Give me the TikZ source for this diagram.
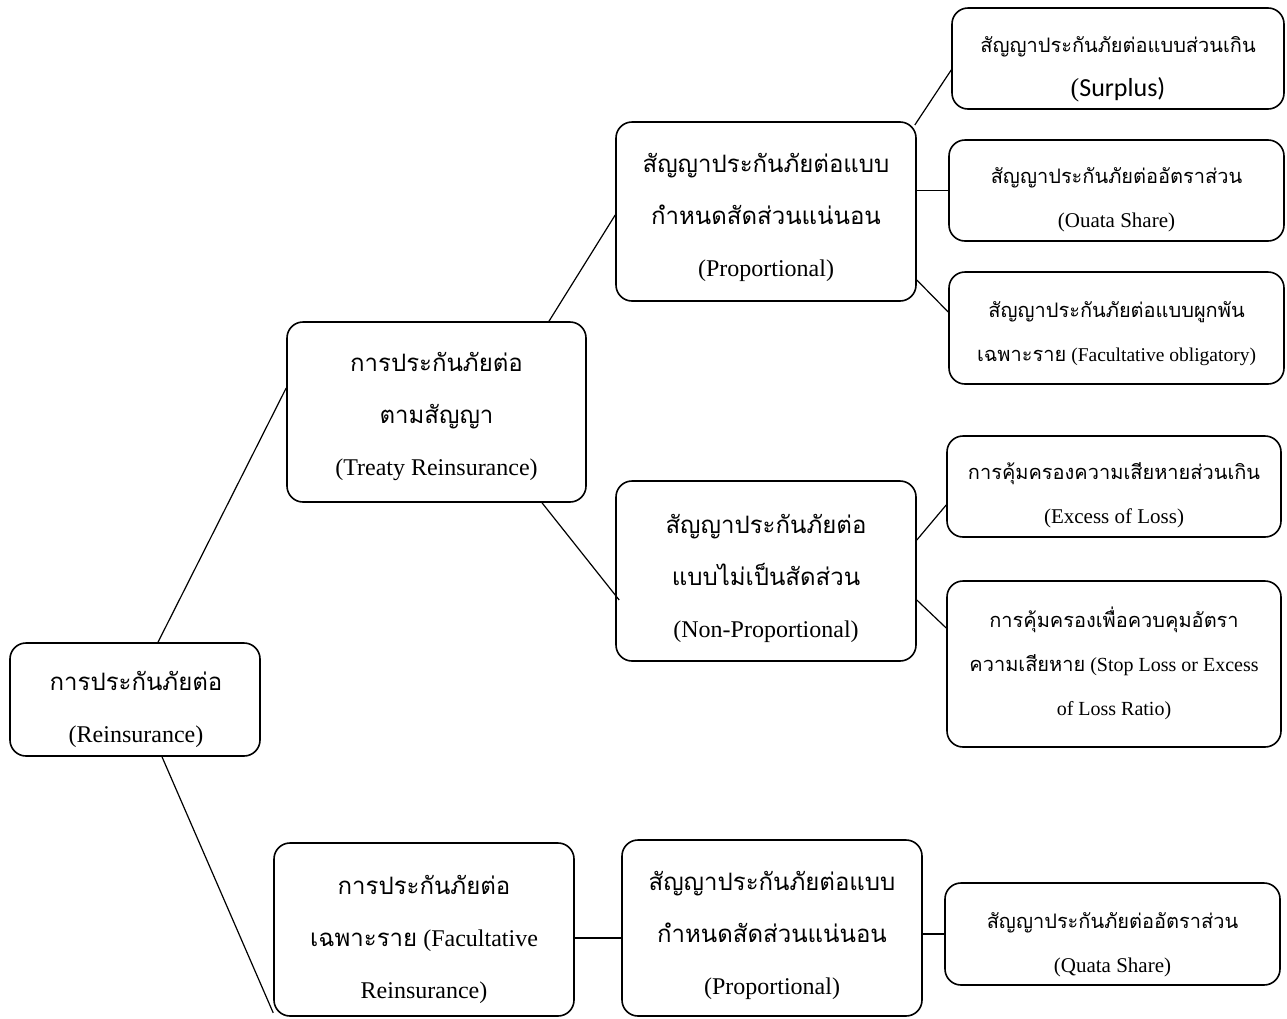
\documentclass[tikz,border=0pt]{standalone}
\usepackage{fontspec}
\setmainfont{Liberation Serif}
\newfontfamily\thaifont[Script=Thai]{Loma}
\newfontfamily\calfont{Carlito}
\newcommand\thx[1]{{\thaifont #1}}
\usetikzlibrary{calc}
\begin{document}
\begin{tikzpicture}[x=1pt,y=-1pt,
  box/.style={draw, line width=1.6pt, rounded corners=16pt, inner sep=0pt},
  bigtxt/.style={align=center, inner sep=0pt, font=\fontsize{24}{52}\selectfont},
  smalltxt/.style={align=center, inner sep=0pt, font=\fontsize{20}{44}\selectfont},
  conn/.style={line width=1.2pt}]
\useasboundingbox (0,0) rectangle (1287,1018);

% boxes
\node[box, minimum width=250pt, minimum height=113pt] (r) at (135,699.5) {};
\node[box, minimum width=299pt, minimum height=180pt] (t) at (436.5,412) {};
\node[box, minimum width=300pt, minimum height=179pt] (p) at (766,211.5) {};
\node[box, minimum width=300pt, minimum height=180pt] (n) at (766,571) {};
\node[box, minimum width=332pt, minimum height=101pt] (s1) at (1118,58.5) {};
\node[box, minimum width=335pt, minimum height=101pt] (s2) at (1116.5,190.5) {};
\node[box, minimum width=335pt, minimum height=112pt] (s3) at (1116.5,328) {};
\node[box, minimum width=334pt, minimum height=101pt] (s4) at (1114,486.5) {};
\node[box, minimum width=334pt, minimum height=166pt] (s5) at (1114,664) {};
\node[box, minimum width=300pt, minimum height=173pt] (f) at (424,929.5) {};
\node[box, minimum width=300pt, minimum height=176pt] (fp) at (772,928) {};
\node[box, minimum width=335pt, minimum height=102pt] (fq) at (1112.5,934) {};

% texts
\node[bigtxt] (rt) at (136,709)
  {\thx{การประกันภัยต่อ}\\(Reinsurance)};
\node[bigtxt] (tt) at (436.5,416)
  {\thx{การประกันภัยต่อ}\\\thx{ตามสัญญา}\\(Treaty Reinsurance)};
\node[bigtxt] (pt) at (766,217)
  {\thx{สัญญาประกันภัยต่อแบบ}\\\thx{กำหนดสัดส่วนแน่นอน}\\(Proportional)};
\node[bigtxt] (nt) at (766,578)
  {\thx{สัญญาประกันภัยต่อ}\\\thx{แบบไม่เป็นสัดส่วน}\\(Non-Proportional)};
\node[smalltxt] (s1t) at (1118,69.5)
  {\thx{สัญญาประกันภัยต่อแบบส่วนเกิน}\\{\fontsize{26}{44}\selectfont(\calfont Surplus)}};
\node[smalltxt] (s2t) at (1116.5,200)
  {\thx{สัญญาประกันภัยต่ออัตราส่วน}\\{\fontsize{21}{44}\selectfont(Ouata Share)}};
\node[smalltxt] (s3t) at (1116.5,334)
  {\thx{สัญญาประกันภัยต่อแบบผูกพัน}\\\thx{เฉพาะราย} {\fontsize{19.5}{44}\selectfont(Facultative obligatory)}};
\node[smalltxt] (s4t) at (1114,495)
  {\thx{การคุ้มครองความเสียหายส่วนเกิน}\\{\fontsize{21}{44}\selectfont(Excess of Loss)}};
\node[smalltxt] (s5t) at (1114,663)
  {\thx{การคุ้มครองเพื่อควบคุมอัตรา}\\\thx{ความเสียหาย} (Stop Loss or Excess\\of Loss Ratio)};
\node[bigtxt] (ft) at (424,939.5)
  {\thx{การประกันภัยต่อ}\\\thx{เฉพาะราย} (Facultative\\Reinsurance)};
\node[bigtxt] (fpt) at (772,935)
  {\thx{สัญญาประกันภัยต่อแบบ}\\\thx{กำหนดสัดส่วนแน่นอน}\\(Proportional)};
\node[smalltxt] (fqt) at (1112.5,945)
  {\thx{สัญญาประกันภัยต่ออัตราส่วน}\\{\fontsize{21}{44}\selectfont(Quata Share)}};

% connectors
\draw[conn] ([xshift=23pt]r.north) -- ([yshift=24pt]t.west);
\draw[conn] ([xshift=27pt]r.south) -- ([yshift=4pt]f.south west);
\draw[conn] ([xshift=112.5pt]t.north) -- ([yshift=-3.5pt]p.west);
\draw[conn] ([xshift=105.5pt]t.south) -- ([yshift=-29pt,xshift=4pt]n.west);
\draw[conn] ([yshift=86.5pt,xshift=-2pt]p.east) -- ([yshift=-11.5pt]s1.west);
\draw[conn] (s2.west -| p.east) -- (s2.west);
\draw[conn] ([yshift=-68.5pt]p.east) -- ([yshift=16pt]s3.west);
\draw[conn] ([yshift=31pt]n.east) -- ([yshift=-18.5pt]s4.west);
\draw[conn] ([yshift=-29pt]n.east) -- ([yshift=36pt]s5.west);
\draw[conn] ([yshift=-8.5pt]f.east) -- ([yshift=-8.5pt]f.east -| fp.west);
\draw[conn] (fq.west -| fp.east) -- (fq.west);
\end{tikzpicture}
\end{document}
